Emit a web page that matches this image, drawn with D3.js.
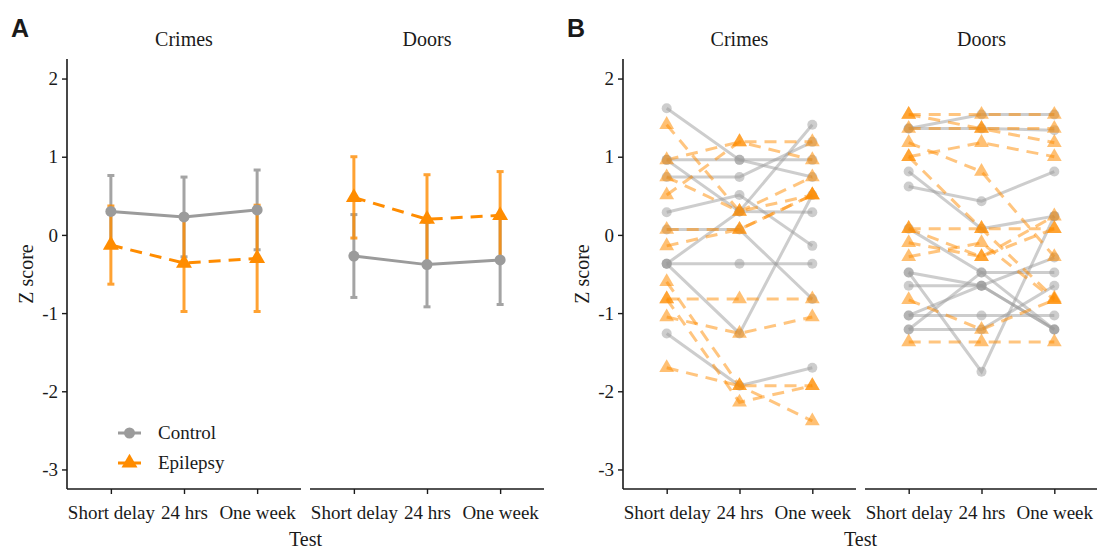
<!DOCTYPE html>
<html>
<head>
<meta charset="utf-8">
<script src="https://cdn.jsdelivr.net/npm/d3@7"></script>
<style>
  html, body { margin: 0; padding: 0; background: #fff; }
  svg { display: block; }
  svg text { font-family: "Liberation Serif", "Tinos", "Times New Roman", Times, "DejaVu Serif", serif !important; fill: #1a1a1a; }
  svg text.panel { font-family: "Liberation Sans", Arial, sans-serif !important; font-weight: bold; }
</style>
</head>
<body>
<svg id="chart" width="1097" height="549"></svg>
<script>
// ---------- DATA ----------
const tests = ["Short delay", "24 hrs", "One week"];
const tasks = ["Crimes", "Doors"];
const groups = ["Control", "Epilepsy"];
const yTicks = [2, 1, 0, -1, -2, -3];

// Panel A: group means and error half-widths
const meanCrimesControl  = [0.30, 0.23, 0.32];
const errCrimesControl   = [0.46, 0.51, 0.51];
const meanCrimesEpilepsy = [-0.13, -0.36, -0.30];
const errCrimesEpilepsy  = [0.50, 0.62, 0.68];
const meanDoorsControl   = [-0.27, -0.38, -0.32];
const errDoorsControl    = [0.53, 0.54, 0.57];
const meanDoorsEpilepsy  = [0.48, 0.20, 0.25];
const errDoorsEpilepsy   = [0.52, 0.57, 0.56];

// Panel B: individual subjects (short delay, 24 hrs, one week)
const subjCrimesControl = [
  [1.62, 0.96, 0.74],
  [0.96, 0.96, 0.96],
  [0.74, 0.74, 1.19],
  [0.29, 0.51, -0.14],
  [0.07, 0.07, -0.82],
  [-0.37, 0.30, 1.41],
  [-0.37, -0.37, -0.37],
  [-0.37, -1.26, 0.51],
  [-1.26, -1.93, -1.70],
  [0.96, 0.30, 0.29]
];
const subjCrimesEpilepsy = [
  [1.41, 0.30, 0.51],
  [0.51, 1.19, 0.96],
  [0.96, 1.19, 1.19],
  [0.74, 0.30, 0.74],
  [0.07, 0.07, 0.51],
  [-0.14, 0.07, 0.51],
  [-0.60, -1.93, -2.38],
  [-0.82, -0.82, -0.82],
  [-1.05, -1.26, -1.05],
  [-1.70, -1.93, -1.93],
  [-0.82, -2.14, -1.93]
];
const subjDoorsControl = [
  [1.36, 1.54, 1.54],
  [1.36, 1.36, 1.34],
  [0.81, 0.08, 0.24],
  [0.62, 0.43, 0.81],
  [0.08, -0.48, -1.21],
  [-0.48, -0.65, -1.21],
  [-0.65, -0.65, -1.21],
  [-1.03, -0.65, -0.29],
  [-1.21, -0.48, -0.48],
  [-1.21, -1.21, -0.65],
  [-0.48, -1.75, 0.24],
  [-1.03, -1.03, -1.03]
];
const subjDoorsEpilepsy = [
  [1.54, 1.54, 1.54],
  [1.54, 1.36, 1.36],
  [1.36, 1.36, 1.18],
  [1.18, 0.81, -0.28],
  [1.00, 1.18, 1.00],
  [0.08, 0.08, 0.08],
  [1.00, 0.08, -0.81],
  [-0.10, -0.28, 0.08],
  [-0.28, -0.10, -0.83],
  [-0.83, -1.21, -0.83],
  [-1.37, -1.37, -1.37],
  [0.08, -0.28, 0.24]
];

// ---------- STYLE ----------
const GREY = "#9b9b9b";
const ORANGE = "#ff8c00";
const svg = d3.select("#chart");

const y = d3.scaleLinear().domain([-3.25, 2.25]).range([489, 59]);

function facetScale(x0, w) {
  return d3.scalePoint().domain(tests).range([x0, x0 + w]).padding(0.6);
}

const triangle = size => d3.symbol().type(d3.symbolTriangle).size(size);

function drawAxes(g, facets) {
  const x0 = facets[0].range[0];
  const yAxis = d3.axisLeft(y).tickValues(yTicks).tickSize(5).tickPadding(4).tickFormat(d => String(d));
  const ya = g.append("g").attr("transform", `translate(${x0},0)`).call(yAxis);
  ya.attr("font-family", null).attr("font-size", null);
  ya.select(".domain").attr("stroke", "#1a1a1a").attr("stroke-width", 1.6).attr("d", `M0,${y.range()[1]}V${y.range()[0]}`);
  ya.selectAll(".tick line").attr("stroke", "#1a1a1a").attr("stroke-width", 1.4);
  ya.selectAll(".tick text").style("font-size", "19px").attr("fill", "#1a1a1a");

  facets.forEach(f => {
    const xa = g.append("g").attr("transform", `translate(0,489)`).call(d3.axisBottom(f.x).tickSize(5).tickPadding(8));
    xa.attr("font-family", null).attr("font-size", null);
    xa.select(".domain").attr("stroke", "#1a1a1a").attr("stroke-width", 1.6).attr("d", `M${f.range[0]},0H${f.range[1]}`);
    xa.selectAll(".tick line").attr("stroke", "#1a1a1a").attr("stroke-width", 1.4);
    xa.selectAll(".tick text").style("font-size", "19px").attr("fill", "#1a1a1a").attr("dy", "0.9em");
    g.append("text").attr("x", (f.range[0] + f.range[1]) / 2).attr("y", 46)
      .attr("text-anchor", "middle").style("font-size", "20px").text(f.task);
  });
  const xmid = (facets[0].range[0] + facets[1].range[1]) / 2;
  g.append("text").attr("x", xmid).attr("y", 546).attr("text-anchor", "middle").style("font-size", "20px").text("Test");
  g.append("text").attr("transform", `translate(${x0 - 34},${(y.range()[0] + y.range()[1]) / 2}) rotate(-90)`)
    .attr("text-anchor", "middle").style("font-size", "20px").text("Z score");
}

// ---------- PANEL A ----------
const gA = svg.append("g");
const facetsA = [
  { task: "Crimes", range: [67, 301], x: facetScale(67, 234),
    ctrl: meanCrimesControl, ctrlE: errCrimesControl, epi: meanCrimesEpilepsy, epiE: errCrimesEpilepsy },
  { task: "Doors", range: [310, 544], x: facetScale(310, 234),
    ctrl: meanDoorsControl, ctrlE: errDoorsControl, epi: meanDoorsEpilepsy, epiE: errDoorsEpilepsy }
];
drawAxes(gA, facetsA);

facetsA.forEach(f => {
  const series = [
    { m: f.ctrl, e: f.ctrlE, color: GREY, op: 0.9, dash: null, shape: "circle" },
    { m: f.epi, e: f.epiE, color: ORANGE, op: 0.8, dash: "12,8", shape: "tri" }
  ];
  series.forEach(s => {
    const eb = gA.append("g").attr("opacity", s.op);
    tests.forEach((t, i) => {
      const cx = f.x(t), lo = y(s.m[i] - s.e[i]), hi = y(s.m[i] + s.e[i]);
      eb.append("line").attr("x1", cx).attr("x2", cx).attr("y1", lo).attr("y2", hi)
        .attr("stroke", s.color).attr("stroke-width", 3);
      [lo, hi].forEach(yy => eb.append("line").attr("x1", cx - 3.5).attr("x2", cx + 3.5).attr("y1", yy).attr("y2", yy)
        .attr("stroke", s.color).attr("stroke-width", 3));
    });
  });
  series.forEach(s => {
    const line = d3.line().x((d, i) => f.x(tests[i])).y(d => y(d));
    gA.append("path").datum(s.m).attr("d", line).attr("fill", "none")
      .attr("stroke", s.color).attr("stroke-width", 3).attr("stroke-dasharray", s.dash);
  });
  series.forEach(s => {
    s.m.forEach((v, i) => {
      if (s.shape === "circle") {
        gA.append("circle").attr("cx", f.x(tests[i])).attr("cy", y(v)).attr("r", 5.5).attr("fill", s.color);
      } else {
        gA.append("path").attr("d", triangle(110)()).attr("transform", `translate(${f.x(tests[i])},${y(v)})`).attr("fill", s.color);
      }
    });
  });
});

// legend
const leg = gA.append("g");
groups.forEach((gname, i) => {
  const ly = 433 + i * 30;
  const color = i === 0 ? GREY : ORANGE;
  leg.append("line").attr("x1", 118).attr("x2", 141).attr("y1", ly).attr("y2", ly).attr("stroke", color).attr("stroke-width", 3);
  if (i === 0) leg.append("circle").attr("cx", 129.5).attr("cy", ly).attr("r", 5.5).attr("fill", color);
  else leg.append("path").attr("d", triangle(110)()).attr("transform", `translate(129.5,${ly})`).attr("fill", color);
  leg.append("text").attr("x", 158).attr("y", ly + 6).style("font-size", "19px").text(gname);
});

gA.append("text").attr("class", "panel").attr("x", 11).attr("y", 37).style("font-size", "25px").text("A");

// ---------- PANEL B ----------
const gB = svg.append("g");
const facetsB = [
  { task: "Crimes", range: [623, 856], x: facetScale(623, 233), ctrl: subjCrimesControl, epi: subjCrimesEpilepsy },
  { task: "Doors", range: [865, 1098], x: facetScale(865, 233), ctrl: subjDoorsControl, epi: subjDoorsEpilepsy }
];
drawAxes(gB, facetsB);

facetsB.forEach(f => {
  const line = d3.line().x((d, i) => f.x(tests[i])).y(d => y(d));
  f.ctrl.forEach(s => gB.append("path").datum(s).attr("d", line).attr("fill", "none")
    .attr("stroke", GREY).attr("stroke-width", 3).attr("stroke-opacity", 0.5));
  f.epi.forEach(s => gB.append("path").datum(s).attr("d", line).attr("fill", "none")
    .attr("stroke", ORANGE).attr("stroke-width", 3).attr("stroke-opacity", 0.5).attr("stroke-dasharray", "12,8"));
  f.ctrl.forEach(s => s.forEach((v, i) => gB.append("circle").attr("cx", f.x(tests[i])).attr("cy", y(v))
    .attr("r", 5).attr("fill", GREY).attr("fill-opacity", 0.5)));
  f.epi.forEach(s => s.forEach((v, i) => gB.append("path").attr("d", triangle(95)())
    .attr("transform", `translate(${f.x(tests[i])},${y(v)})`).attr("fill", ORANGE).attr("fill-opacity", 0.55)));
});

gB.append("text").attr("class", "panel").attr("x", 567).attr("y", 37).style("font-size", "25px").text("B");
</script>
</body>
</html>
